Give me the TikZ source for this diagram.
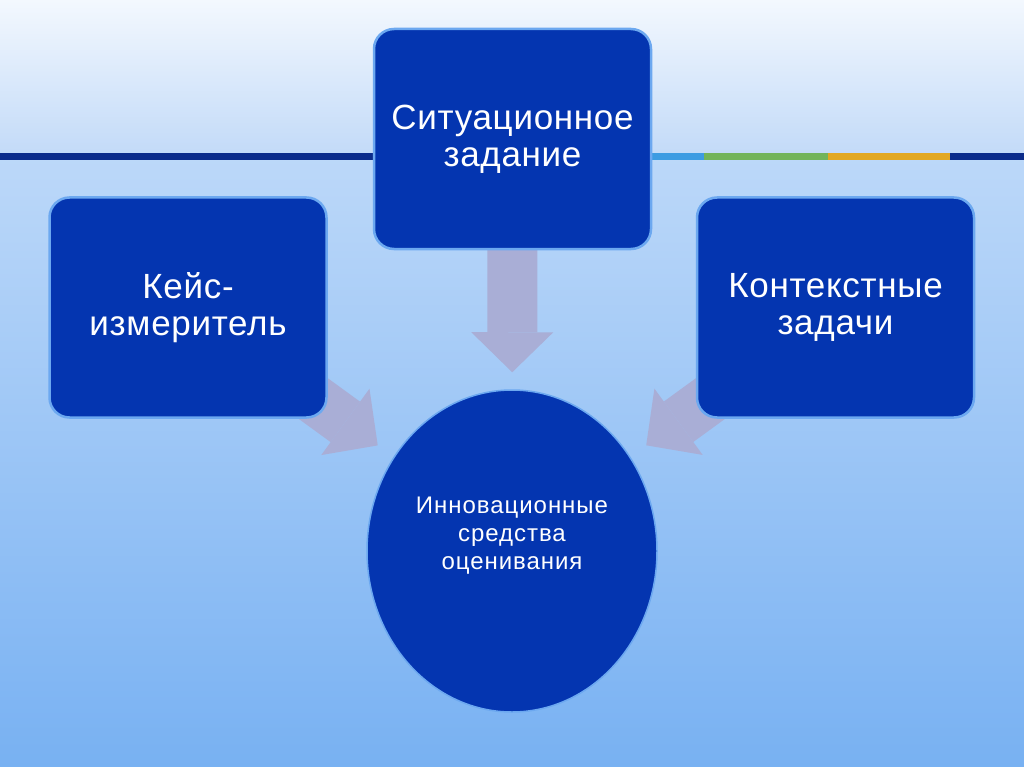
\documentclass[tikz,border=0pt]{standalone}
\usepackage{fontspec}
\setmainfont{Liberation Sans}
\usetikzlibrary{shapes.geometric,arrows.meta}
\definecolor{bgA}{HTML}{F3F8FE}
\definecolor{bgB}{HTML}{C2DAF8}
\definecolor{bgC}{HTML}{BCD8F9}
\definecolor{bgD}{HTML}{78B1F2}
\definecolor{navy}{HTML}{0B2C8B}
\definecolor{lblue}{HTML}{3D9CE2}
\definecolor{lgreen}{HTML}{73B45A}
\definecolor{lorange}{HTML}{E2A823}
\definecolor{boxblue}{HTML}{0435B0}
\definecolor{boxedge}{HTML}{6CA8F0}
\definecolor{arrowcol}{HTML}{A9AED6}
\pgfdeclarelayer{bg}
\pgfdeclarelayer{arr}
\pgfsetlayers{bg,arr,main}
\tikzset{
  boxnode/.style={rectangle, rounded corners=20pt, fill=boxblue, draw=boxedge,
    line width=2.5pt, minimum width=277pt, minimum height=220pt, inner sep=0pt,
    text=white, align=center, font=\fontsize{35}{37}\selectfont\addfontfeatures{LetterSpace=2}},
  circnode/.style={ellipse, fill=boxblue, draw=boxedge, line width=1.5pt,
    minimum width=290pt, minimum height=322pt, inner sep=0pt},
  circtext/.style={text=white, align=center, inner sep=0pt,
    font=\fontsize{24}{28}\selectfont\addfontfeatures{LetterSpace=4}},
  blockarrow/.style={draw=arrowcol, line width=50pt,
    -{Triangle[width=82pt,length=40pt,line width=0pt]}}
}
\begin{document}
\begin{tikzpicture}[x=1pt,y=-1pt]
\useasboundingbox (0,0) rectangle (1024,767);
\begin{pgfonlayer}{bg}
\shade[top color=bgA, bottom color=bgB] (0,0) rectangle (1024,156);
\shade[top color=bgC, bottom color=bgD] (0,156) rectangle (1024,767);
\fill[navy] (0,153) rectangle (380,160);
\fill[lblue] (645,153) rectangle (704,160);
\fill[lgreen] (704,153) rectangle (828,160);
\fill[lorange] (828,153) rectangle (950,160);
\fill[navy] (950,153) rectangle (1024,160);
\end{pgfonlayer}

\node[boxnode] (T) at (512.5,139) {Ситуационное\\задание};
\node[boxnode] (L) at (188,307.5) {Кейс-\\измеритель};
\node[boxnode] (R) at (835.5,307.5) {Контекстные\\задачи};
\node[circnode] (C) at (512,551) {};
\node[circtext] (Ct) at (512,536) {Инновационные\\средства\\оценивания};

\begin{pgfonlayer}{arr}
\draw[blockarrow, shorten >=17pt] (T.center) -- (C);
\draw[blockarrow, shorten >=166pt] (L.center) -- ([yshift=8pt]C.center);
\draw[blockarrow, shorten >=166pt] (R.center) -- ([yshift=8pt]C.center);
\end{pgfonlayer}
\end{tikzpicture}
\end{document}
